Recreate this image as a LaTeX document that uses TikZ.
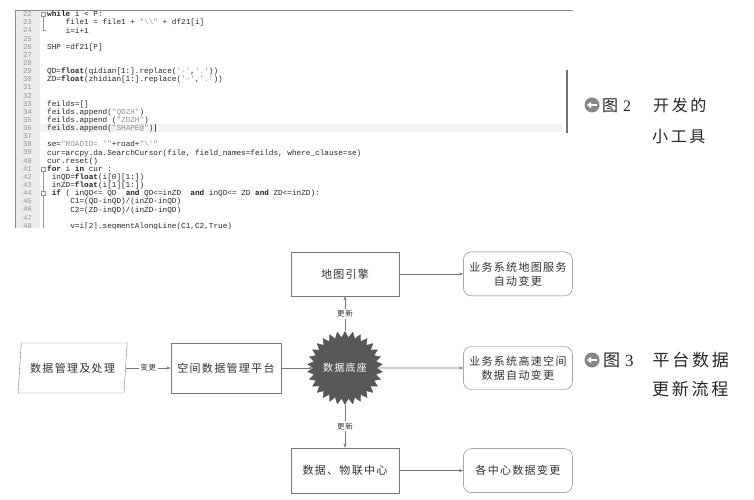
\documentclass[tikz,border=0pt]{standalone}
\usepackage{fontspec}
\setmainfont{Liberation Serif}
\setmonofont{Liberation Mono}
\newfontfamily\cjk[LetterSpace=12]{Noto Sans CJK SC}
\newfontfamily\cjkcap[LetterSpace=16]{Noto Sans CJK SC}
\usetikzlibrary{shapes.geometric, shapes.symbols, arrows.meta, positioning}
\usepackage{xcolor}
\definecolor{cLine}{RGB}{120,120,120}
\definecolor{cText}{RGB}{50,50,50}
\definecolor{cHub}{RGB}{88,88,88}
\definecolor{cGutter}{RGB}{236,236,236}
\definecolor{cNum}{RGB}{150,150,150}
\definecolor{cStr}{RGB}{145,145,145}
\definecolor{cFrame}{RGB}{140,140,140}
\definecolor{cCurLine}{RGB}{242,242,242}
\definecolor{cBar}{RGB}{115,115,115}
\definecolor{cIcon}{RGB}{135,135,135}
\newcommand{\ckw}[1]{\textbf{#1}}
\newcommand{\cstr}[1]{\textcolor{cStr}{#1}}
\tikzset{
  flowbox/.style={rectangle, draw=cLine, thin, align=center, text=cText,
                  font=\cjk\fontsize{11}{14}\selectfont,
                  minimum width=108pt, minimum height=44pt, inner sep=2pt},
  resultbox/.style={flowbox, rounded corners=8pt, minimum width=109pt},
  inputbox/.style={trapezium, trapezium left angle=79, trapezium right angle=101,
                   trapezium stretches=true, draw=cLine, thin, text=cText,
                   font=\cjk\fontsize{11}{14}\selectfont,
                   minimum width=110pt, minimum height=50pt, inner sep=2pt},
  hubnode/.style={starburst, starburst points=30, starburst point height=6pt,
                  random starburst=0, fill=cHub, draw=cHub, text=white,
                  font=\cjk\fontsize{10}{12}\selectfont,
                  minimum width=75pt, minimum height=73pt, inner sep=0pt},
  flowarrow/.style={-{Stealth[length=4.5pt,width=3pt]}, draw=cLine, line width=0.6pt},
  edgelabel/.style={fill=white, text=cText, inner sep=1.5pt,
                    font=\cjk\fontsize{7.5}{9}\selectfont},
  linenum/.style={anchor=base east, inner sep=0pt, text=cNum,
                  font=\ttfamily\fontsize{7.3}{8}\selectfont},
  codeline/.style={anchor=base west, inner sep=0pt, text=black!85,
                   font=\ttfamily\fontsize{7.7}{8}\selectfont},
  captext/.style={anchor=west, inner sep=0pt, text=black!85},
  capicon/.style={circle, fill=cIcon, minimum size=15pt, inner sep=0pt},
  iconarrow/.style={-{Triangle[length=4pt,width=6.5pt]}, white, line width=2.2pt}
}
\begin{document}
\begin{tikzpicture}[x=1pt, y=1pt]
  \useasboundingbox (0,0) rectangle (754,-499);
  \fill[white] (0,0) rectangle (754,-499);

  % ── Code screenshot ──
  \fill[cGutter] (15,-10) rectangle (40,-228);
  \fill[cCurLine] (40,-124) rectangle (562,-132);
  \draw[cFrame, line width=0.8pt] (15,-228) -- (15,-10) -- (573,-10);
  \draw[cBar, line width=2.5pt] (567,-70) -- (567,-133);

  \begin{scope}
    \clip (15,-10) rectangle (575,-228);
    \foreach \n in {22,...,48}
      \node[linenum] (num\n) at (32, {-14-(\n-22)*8.14-2.6}) {\n};

    % fold markers
    \draw[cNum, line width=0.4pt] (41,-12) rectangle (45,-16);
    \draw[cNum, line width=0.4pt] (43,-17) -- (43,-30) -- (46,-30);
    \draw[cNum, line width=0.4pt] (41,-166.7) rectangle (45,-170.7);
    \draw[cNum, line width=0.4pt] (43,-171) -- (43,-191);
    \draw[cNum, line width=0.4pt] (41,-191.1) rectangle (45,-195.1);
    \draw[cNum, line width=0.4pt] (43,-195.5) -- (43,-228);

    \node[codeline] (ln22) at (47,-16.7) {\ckw{while} i < P:};
    \node[codeline] (ln23) at (47,-24.8) {\phantom{xxxx}file1 = file1 + \cstr{"\textbackslash\textbackslash"} + df21[i]};
    \node[codeline] (ln24) at (47,-33.0) {\phantom{xxxx}i=i+1};
    \node[codeline] (ln26) at (47,-49.3) {SHP =df21[P]};
    \node[codeline] (ln29) at (47,-73.7) {QD=\ckw{float}(qidian[1:].replace(\cstr{'-'},\cstr{'.'}))};
    \node[codeline] (ln30) at (47,-81.8) {ZD=\ckw{float}(zhidian[1:].replace(\cstr{'-'},\cstr{'.'}))};
    \node[codeline] (ln33) at (47,-106.2) {feilds=[]};
    \node[codeline] (ln34) at (47,-114.4) {feilds.append(\cstr{"QDZH"})};
    \node[codeline] (ln35) at (47,-122.5) {feilds.append (\cstr{"ZDZH"})};
    \node[codeline] (ln36) at (47,-130.7) {feilds.append(\cstr{"SHAPE@"})};
    \node[codeline] (ln38) at (47,-146.9) {se=\cstr{"ROADID= '"}+road+\cstr{"\textbackslash'"}};
    \node[codeline] (ln39) at (47,-155.1) {cur=arcpy.da.SearchCursor(file, field\_names=feilds, where\_clause=se)};
    \node[codeline] (ln40) at (47,-163.2) {cur.reset()};
    \node[codeline] (ln41) at (47,-171.4) {\ckw{for} i \ckw{in} cur :};
    \node[codeline] (ln42) at (47,-179.5) {\phantom{x}inQD=\ckw{float}(i[0][1:])};
    \node[codeline] (ln43) at (47,-187.6) {\phantom{x}inZD=\ckw{float}(i[1][1:])};
    \node[codeline] (ln44) at (47,-195.8) {\phantom{x}\ckw{if} ( inQD<= QD\phantom{x} \ckw{and} QD<=inZD\phantom{x} \ckw{and} inQD<= ZD \ckw{and} ZD<=inZD):};
    \node[codeline] (ln45) at (47,-203.9) {\phantom{xxxxx}C1=(QD-inQD)/(inZD-inQD)};
    \node[codeline] (ln46) at (47,-212.1) {\phantom{xxxxx}C2=(ZD-inQD)/(inZD-inQD)};
    \node[codeline] (ln48) at (47,-228.3) {\phantom{xxxxx}v=i[2].segmentAlongLine(C1,C2,True)};
  \end{scope}
  \draw[black!70, line width=0.5pt] (155,-124) -- (155,-132);

  % ── Caption 2 ──
  \node[capicon] (cap2icon) at (592,-105) {};
  \draw[iconarrow] ([xshift=4.5pt]cap2icon.center) -- ([xshift=-5pt]cap2icon.center);
  \node[captext, font=\cjkcap\fontsize{16}{18}\selectfont] (cap2a) at (602,-105)
      {图\hspace{5pt}{\rmfamily 2}\hspace{22pt}开发的};
  \node[captext, font=\cjkcap\fontsize{16}{18}\selectfont] (cap2b) at (652,-137) {小工具};

  % ── Flow chart ──
  \node[hubnode] (hub) at (345,-368) {数据底座};
  \node[flowbox, minimum width=110pt, minimum height=50pt, left=32pt of hub] (platform)
      {空间数据管理平台};
  \node[inputbox, left=45pt of platform] (source) {数据管理及处理};
  \node[flowbox, above=35pt of hub] (engine) {地图引擎};
  \node[flowbox, minimum height=45pt, below=43pt of hub] (iot) {数据、物联中心};
  \node[resultbox, right=64pt of engine] (sysmap) {业务系统地图服务\\自动变更};
  \node[resultbox, minimum height=43pt] (sysspeed) at (sysmap |- hub)
      {业务系统高速空间\\数据自动变更};
  \node[resultbox, right=64pt of iot] (syscenter) {各中心数据变更};

  % ── Arrows ──
  \draw[flowarrow] (source.east) -- (platform.west)
      node[midway, edgelabel] {变更};
  \draw[flowarrow] (platform.east) -- (hub.west);
  \draw[flowarrow] (hub.north) -- (engine.south)
      node[midway, edgelabel] {更新};
  \draw[flowarrow] (hub.south) -- (iot.north)
      node[midway, edgelabel] {更新};
  \draw[flowarrow] (engine.east) -- (sysmap.west);
  \draw[flowarrow] (hub.east) -- (sysspeed.west);
  \draw[flowarrow] (iot.east) -- (syscenter.west);

  % ── Caption 3 ──
  \node[capicon] (cap3icon) at (592,-360) {};
  \draw[iconarrow] ([xshift=4.5pt]cap3icon.center) -- ([xshift=-5pt]cap3icon.center);
  \node[captext, font=\cjkcap\fontsize{17}{19}\selectfont] (cap3a) at (603,-360)
      {图\hspace{5pt}{\rmfamily 3}\hspace{19pt}平台数据};
  \node[captext, font=\cjkcap\fontsize{17}{19}\selectfont] (cap3b) at (652,-389) {更新流程};
\end{tikzpicture}
\end{document}
